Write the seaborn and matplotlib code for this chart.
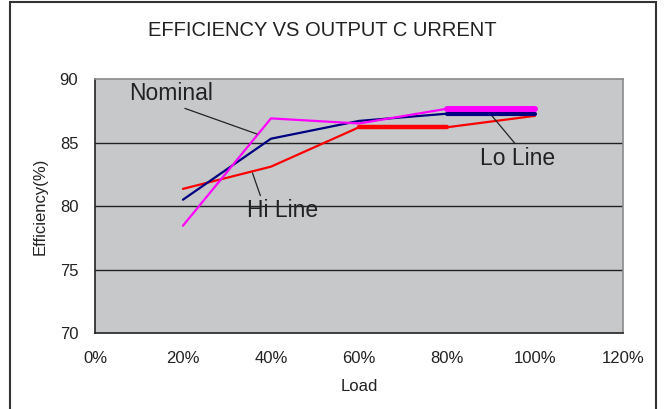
import pandas as pd
import matplotlib
matplotlib.use("Agg")
import matplotlib.pyplot as plt
import matplotlib.patches as mpatches
from matplotlib.ticker import PercentFormatter
import seaborn as sns

load = [20, 40, 60, 80, 100]
nominal = [80.5, 85.3, 86.7, 87.27, 87.27]
hi_line = [81.35, 83.1, 86.2, 86.2, 87.1]
lo_line = [78.45, 86.9, 86.5, 87.66, 87.66]

x_ticks = [0, 20, 40, 60, 80, 100, 120]
y_ticks = [70, 75, 80, 85, 90]

colors = {"Nominal": "#000080", "Hi Line": "#FF0000", "Lo Line": "#FF00FF"}

df = pd.DataFrame({
    "Load": load * 3,
    "Eff": hi_line + nominal + lo_line,
    "series": ["Hi Line"] * 5 + ["Nominal"] * 5 + ["Lo Line"] * 5,
})

sns.set_style("white")
plt.rcParams['font.family'] = ['Liberation Sans', 'DejaVu Sans']

fig = plt.figure(figsize=(6.66, 4.09), dpi=100)
ax = fig.add_axes([0.1426, 0.1858, 0.7928, 0.621])
ax.set_facecolor("#C7C8CA")

for ln in [75, 80, 85]:
    ax.axhline(ln, color="#222222", lw=1, zorder=1)

sns.lineplot(data=df, x="Load", y="Eff", hue="series", palette=colors,
             linewidth=1.6, legend=False, ax=ax, zorder=3)

# the heavier stubs on the right
hi_seg = df[(df.series == "Hi Line") & (df.Load.isin([60, 80]))]
nom_seg = df[(df.series == "Nominal") & (df.Load.isin([80, 100]))]
lo_seg = df[(df.series == "Lo Line") & (df.Load.isin([80, 100]))]
sns.lineplot(data=hi_seg, x="Load", y="Eff", color=colors["Hi Line"], linewidth=3.2, ax=ax, zorder=4)
sns.lineplot(data=nom_seg, x="Load", y="Eff", color=colors["Nominal"], linewidth=3.0, ax=ax, zorder=4)
sns.lineplot(data=lo_seg, x="Load", y="Eff", color=colors["Lo Line"], linewidth=4.3, ax=ax, zorder=5)

ax.set_xlim(0, 120)
ax.set_ylim(70, 90)
ax.set_xticks(x_ticks)
ax.set_yticks(y_ticks)
ax.xaxis.set_major_formatter(PercentFormatter(decimals=0))
ax.tick_params(axis="x", direction="in", length=4, labelsize=12, pad=13, color="#222222")
ax.tick_params(axis="y", direction="out", length=3, labelsize=12, pad=9, color="#222222")
for lab in ax.get_xticklabels() + ax.get_yticklabels():
    lab.set_color("#222222")

for s in ["left", "bottom"]:
    ax.spines[s].set_color("#222222")
    ax.spines[s].set_linewidth(1.2)
for s in ["top", "right"]:
    ax.spines[s].set_color("#8a8a8a")
    ax.spines[s].set_linewidth(1.2)

ax.set_xlabel("Load", fontsize=12, color="#222222", labelpad=9)
ax.set_ylabel("Efficiency(%)", fontsize=12, color="#222222", labelpad=9)

# callouts
ax.annotate("Nominal", xy=(36.8, 85.67), xytext=(17.4, 88.85), fontsize=16.5,
            ha="center", va="center", color="#222222",
            arrowprops=dict(arrowstyle="-", color="#222222", lw=0.9, shrinkA=0, shrinkB=0,
                            relpos=(0.55, 0.0)))
ax.annotate("Hi Line", xy=(35.8, 82.6), xytext=(42.7, 79.65), fontsize=16.5,
            ha="center", va="center", color="#222222",
            arrowprops=dict(arrowstyle="-", color="#222222", lw=0.9, shrinkA=0, shrinkB=0,
                            relpos=(0.2, 1.0)))
ax.annotate("Lo Line", xy=(89.5, 87.4), xytext=(96.1, 83.75), fontsize=16.5,
            ha="center", va="center", color="#222222",
            arrowprops=dict(arrowstyle="-", color="#222222", lw=0.9, shrinkA=0, shrinkB=0,
                            relpos=(0.5, 1.0)))

fig.text(0.484, 0.926, "EFFICIENCY VS OUTPUT C URRENT", fontsize=14.5,
         ha="center", va="center", color="#222222")

# outer frame of the chart
fig.patches.append(mpatches.Rectangle((10 / 666, -0.1), 646 / 666, 1.1 - 2 / 409,
                                      transform=fig.transFigure, fill=False,
                                      edgecolor="#333333", lw=1.5))

fig.savefig("out.png", dpi=100)
